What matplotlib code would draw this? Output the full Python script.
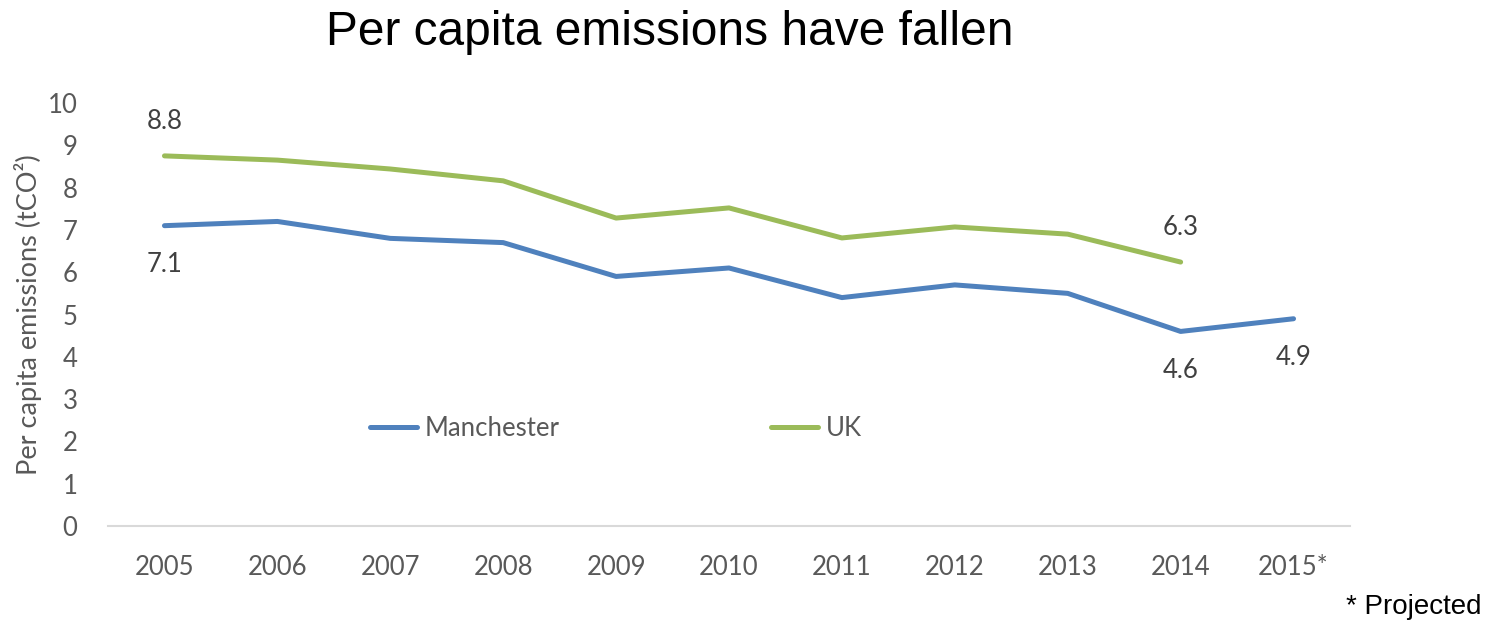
import matplotlib
matplotlib.use('Agg')
import matplotlib.pyplot as plt
import numpy as np

# Data
years = ['2005', '2006', '2007', '2008', '2009', '2010', '2011', '2012', '2013', '2014', '2015*']
manchester = [7.1, 7.2, 6.8, 6.7, 5.9, 6.1, 5.4, 5.7, 5.5, 4.6, 4.9]
uk = [8.75, 8.65, 8.44, 8.16, 7.28, 7.52, 6.81, 7.07, 6.9, 6.24]

# Labels shown on the chart
man_labels = {0: '7.1', 9: '4.6', 10: '4.9'}
uk_labels = {0: '8.8', 9: '6.3'}

blue = '#4F81BD'
green = '#9BBB59'
grey = '#595959'

plt.rcParams['font.family'] = ['Lato', 'DejaVu Sans']

fig = plt.figure(figsize=(14.96, 6.22), dpi=100)
ax = fig.add_axes([0.0722, 0.1543, 0.8302, 0.6801])

x = np.arange(len(years))
ax.plot(x, manchester, color=blue, lw=3.6, solid_capstyle='round', label='Manchester')
ax.plot(x[:len(uk)], uk, color=green, lw=3.6, solid_capstyle='round', label='UK')

# data labels
for i, t in man_labels.items():
    ax.annotate(t, (x[i], manchester[i]), xytext=(0, -28), textcoords='offset points',
                ha='center', va='center', fontsize=18.5, color='#404040')
for i, t in uk_labels.items():
    ax.annotate(t, (x[i], uk[i]), xytext=(0, 25), textcoords='offset points',
                ha='center', va='center', fontsize=18.5, color='#404040')

ax.set_xlim(-0.5, len(years) - 0.5)
ax.set_ylim(0, 10)
ax.set_yticks(range(0, 11))
ax.set_xticks(x)
ax.set_xticklabels(years)
ax.tick_params(axis='both', length=0, labelsize=18.5, labelcolor=grey)
ax.tick_params(axis='x', pad=21)
ax.tick_params(axis='y', pad=22)
for s in ['top', 'right', 'left']:
    ax.spines[s].set_visible(False)
ax.spines['bottom'].set_color('#D9D9D9')
ax.spines['bottom'].set_linewidth(1.5)

ax.set_ylabel('Per capita emissions (tCO²)', fontsize=19.5, color=grey, labelpad=4)

ax.legend(loc='center', bbox_to_anchor=(0.409, 0.23), ncol=2, frameon=False,
          fontsize=18.5, handlelength=1.85, handletextpad=0.3, columnspacing=8.2,
          labelcolor=grey)

fig.text(0.448, 0.948, 'Per capita emissions have fallen', ha='center', va='center',
         fontsize=34.5, family='Liberation Sans', color='black')
fig.text(0.99, 0.024, '* Projected', ha='right', va='center', fontsize=20,
         family='Liberation Sans', color='black')

fig.savefig('out.png', dpi=100)
